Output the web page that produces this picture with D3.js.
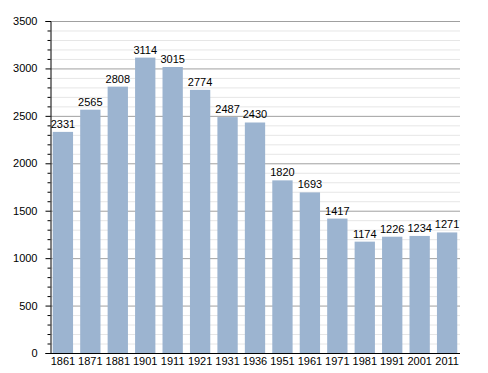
<!DOCTYPE html>
<html>
<head>
<meta charset="utf-8">
<script src="https://d3js.org/d3.v7.min.js"></script>
<style>
	body { margin: 0; background: #fff; }
	svg text { font-family: "Liberation Sans", Arial, sans-serif; font-size: 11px; fill: #000; }
</style>
</head>
<body>
<svg id="canvas" width="488" height="373"></svg>
<script>
// census years and population
const years = ["1861", "1871", "1881", "1901", "1911", "1921", "1931", "1936", "1951", "1961", "1971", "1981", "1991", "2001", "2011"];
const population = [2331, 2565, 2808, 3114, 3015, 2774, 2487, 2430, 1820, 1693, 1417, 1174, 1226, 1234, 1271];
const yTicks = [0, 500, 1000, 1500, 2000, 2500, 3000, 3500];

const svg = d3.select("#canvas");
const plotLeft = 50, plotRight = 460, plotTop = 21, plotBottom = 353;

const x = d3.scaleBand()
	.domain(years)
	.range([plotLeft, plotRight])
	.paddingInner(0.26)
	.paddingOuter(0.1);

const y = d3.scaleLinear()
	.domain([0, 3500])
	.range([plotBottom, plotTop]);

const minor = d3.range(0, 3501, 100);

// minor grid
svg.append("g").selectAll("line")
	.data(minor.filter(d => d % 500 !== 0))
	.enter().append("line")
	.attr("x1", plotLeft).attr("x2", plotRight)
	.attr("y1", d => y(d) + 0.5).attr("y2", d => y(d) + 0.5)
	.attr("stroke", "#e6e6e6");

// major grid
svg.append("g").selectAll("line")
	.data(yTicks.filter(d => d > 0))
	.enter().append("line")
	.attr("x1", plotLeft).attr("x2", plotRight)
	.attr("y1", d => y(d) + 0.5).attr("y2", d => y(d) + 0.5)
	.attr("stroke", "#a0a0a0");

// bars
svg.append("g").selectAll("rect")
	.data(population)
	.enter().append("rect")
	.attr("x", (d, i) => x(years[i]))
	.attr("y", d => y(d))
	.attr("width", x.bandwidth())
	.attr("height", d => y(0) - y(d))
	.attr("fill", "#9cb4d0");

// value labels
svg.append("g").selectAll("text")
	.data(population)
	.enter().append("text")
	.attr("x", (d, i) => x(years[i]) + x.bandwidth() / 2)
	.attr("y", d => y(d) - 4)
	.attr("text-anchor", "middle")
	.text(d => d);

// y axis
const yAxis = svg.append("g")
	.attr("transform", "translate(" + (plotLeft + 0.5) + ",0)")
	.call(d3.axisLeft(y).tickValues(yTicks).tickFormat(d3.format("d")).tickSize(5).tickPadding(8));
yAxis.select(".domain").attr("stroke", "#000");
yAxis.selectAll("text").style("font-size", "11px").attr("fill", "#000");

svg.append("g")
	.attr("transform", "translate(" + (plotLeft + 0.5) + ",0)")
	.call(d3.axisLeft(y).tickValues(minor.filter(d => d % 500 !== 0)).tickSize(3).tickFormat(""))
	.select(".domain").remove();

// x axis
const xAxis = svg.append("g")
	.attr("transform", "translate(0," + (plotBottom + 0.5) + ")")
	.call(d3.axisBottom(x).tickSize(0).tickPadding(4));
xAxis.select(".domain").attr("stroke", "#000").attr("d", "M" + plotLeft + ",0H" + plotRight);
xAxis.selectAll("text").style("font-size", "11px").attr("fill", "#000");
</script>
</body>
</html>
